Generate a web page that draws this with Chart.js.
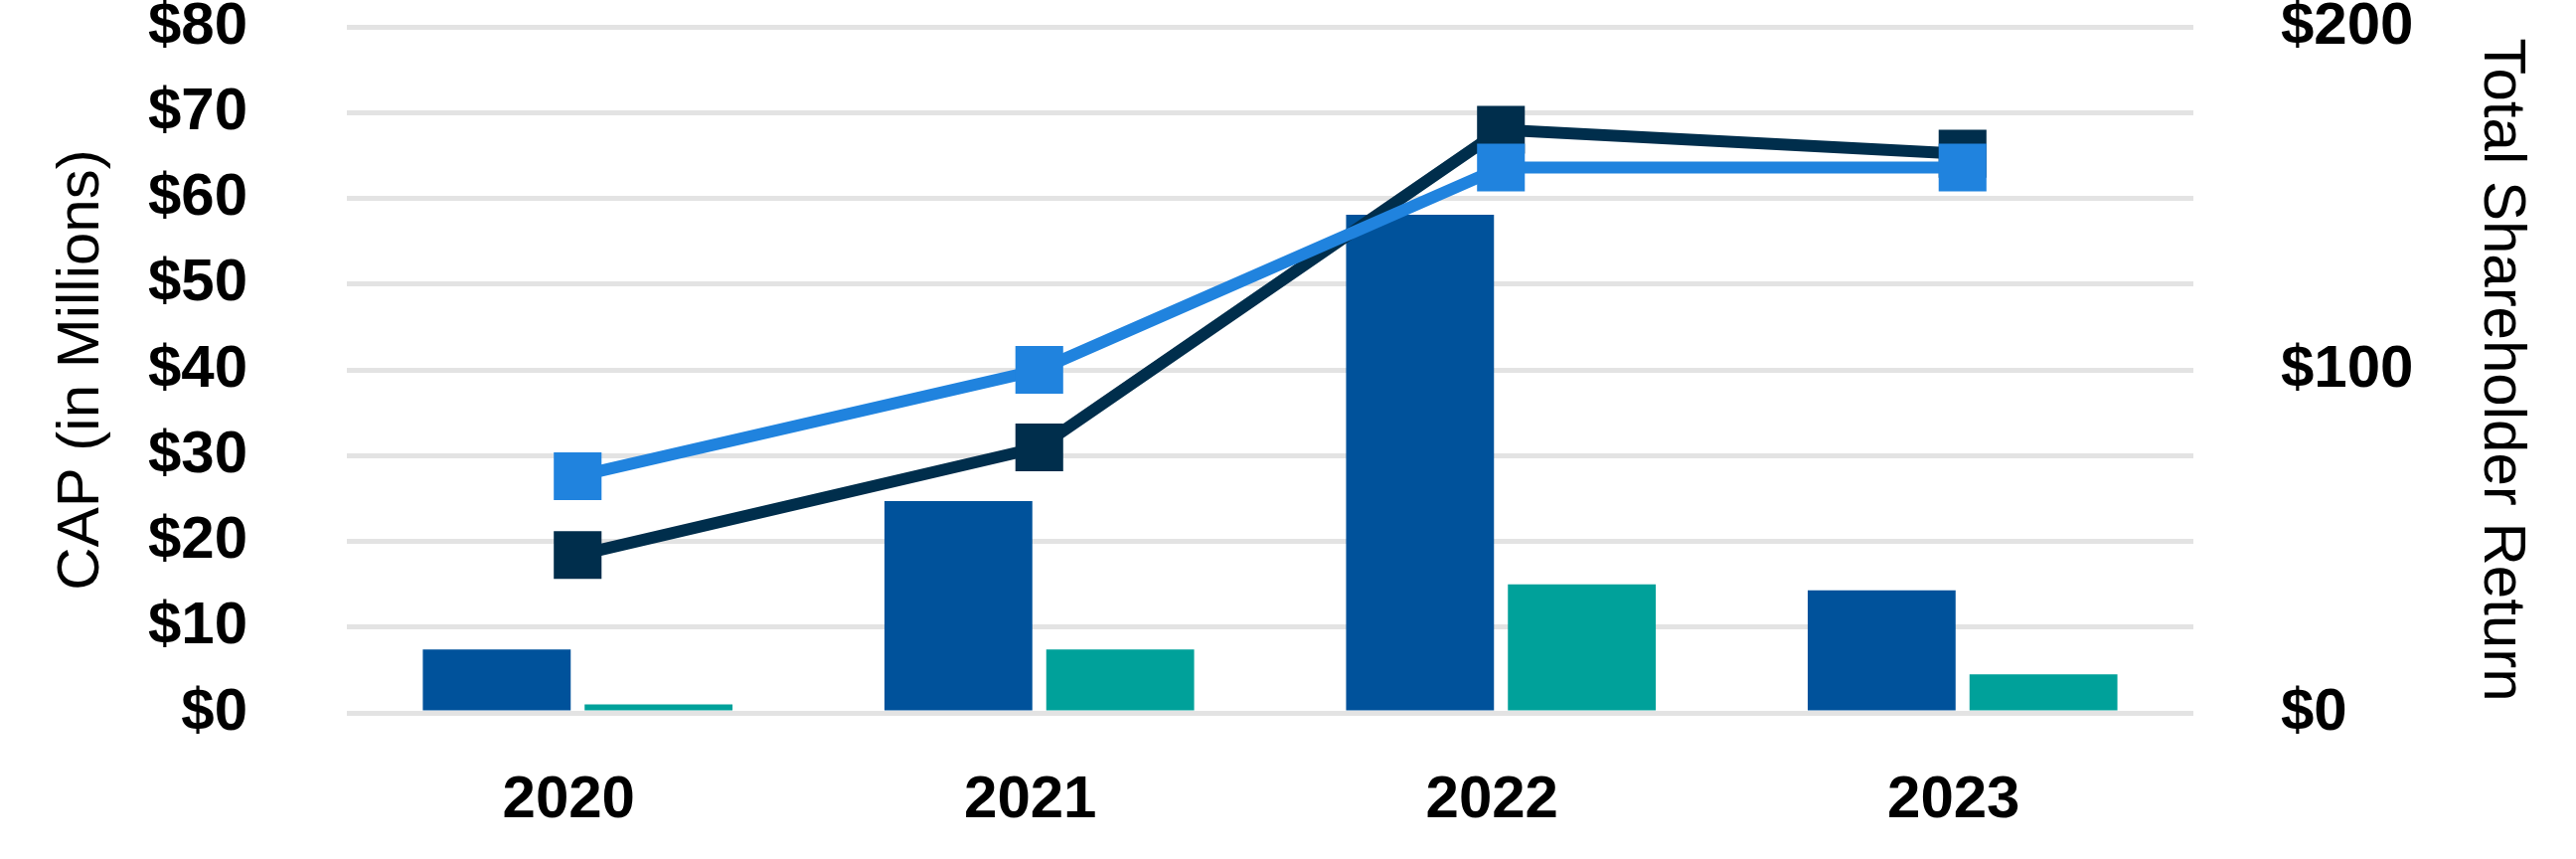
<!DOCTYPE html>
<html>
<head>
<meta charset="utf-8">
<script src="https://cdn.jsdelivr.net/npm/chart.js@4.4.1/dist/chart.umd.min.js"></script>
<style>
  html, body { margin: 0; padding: 0; background: #ffffff; }
  #wrap { width: 2592px; height: 864px; }
</style>
</head>
<body>
<div id="wrap"><canvas id="c" width="2592" height="864"></canvas></div>
<script>
// ---- data ----
const years = ['2020', '2021', '2022', '2023'];
const capValues = [7.4, 24.7, 58.1, 14.3];          // CAP (in Millions), left axis
const netIncomeValues = [1.0, 7.4, 15.0, 4.5];      // second bar series, left axis
const companyTSR = [46, 77.4, 170, 163];             // dark line, right axis
const peerTSR = [69, 100, 159, 159];                 // light line, right axis
const leftTicks = [0, 10, 20, 30, 40, 50, 60, 70, 80];
const rightTicks = [0, 100, 200];
const leftTitle = 'CAP (in Millions)';
const rightTitle = 'Total Shareholder Return';

const FONT = '"Liberation Sans", Arial, sans-serif';

new Chart(document.getElementById('c'), {
  type: 'bar',
  data: {
    labels: years,
    datasets: [
      {
        type: 'line', label: 'Peer TSR', data: peerTSR, yAxisID: 'y1', order: 0,
        borderColor: '#2083DE', backgroundColor: '#2083DE', borderWidth: 12,
        tension: 0, pointStyle: 'rect', pointRadius: 34, pointHoverRadius: 34,
        pointBorderWidth: 0, pointBackgroundColor: '#2083DE', fill: false
      },
      {
        type: 'line', label: 'Company TSR', data: companyTSR, yAxisID: 'y1', order: 1,
        borderColor: '#002E4C', backgroundColor: '#002E4C', borderWidth: 12,
        tension: 0, pointStyle: 'rect', pointRadius: 34, pointHoverRadius: 34,
        pointBorderWidth: 0, pointBackgroundColor: '#002E4C', fill: false
      },
      {
        type: 'bar', label: 'CAP', data: capValues, yAxisID: 'y', order: 2,
        backgroundColor: '#00529B', categoryPercentage: 0.701, barPercentage: 0.914
      },
      {
        type: 'bar', label: 'Net Income', data: netIncomeValues, yAxisID: 'y', order: 3,
        backgroundColor: '#00A19A', categoryPercentage: 0.701, barPercentage: 0.914
      }
    ]
  },
  options: {
    responsive: false,
    devicePixelRatio: 1,
    animation: false,
    layout: { autoPadding: false, padding: { top: 27, left: 0, right: 0, bottom: 0 } },
    plugins: { legend: { display: false }, tooltip: { enabled: false } },
    scales: {
      x: {
        type: 'category',
        offset: true,
        grid: { display: false, drawTicks: false },
        border: { display: false },
        ticks: { color: '#000', padding: 52, labelOffset: -9, font: { family: FONT, size: 60, weight: 'bold' } },
        afterFit: (s) => { s.height = 147; s.paddingLeft = 0; s.paddingRight = 0; }
      },
      y: {
        position: 'left',
        min: 0, max: 80,
        afterBuildTicks: (s) => { s.ticks = leftTicks.map(v => ({ value: v })); },
        grid: { color: '#E3E3E3', lineWidth: 5, drawTicks: false },
        border: { display: false },
        ticks: {
          color: '#000', padding: 100,
          font: { family: FONT, size: 60, weight: 'bold' },
          callback: (v) => '$' + v
        },
        title: {
          display: true, text: leftTitle, color: '#000',
          font: { family: FONT, size: 60, weight: 'normal' },
          padding: { top: 46, bottom: 0 }
        },
        afterFit: (s) => { s.width = 349; s.paddingTop = 0; s.paddingBottom = 0; }
      },
      y1: {
        position: 'right',
        min: 0, max: 200,
        afterBuildTicks: (s) => { s.ticks = rightTicks.map(v => ({ value: v })); },
        grid: { display: false, drawTicks: false },
        border: { display: false },
        ticks: {
          color: '#000', padding: 88,
          font: { family: FONT, size: 60, weight: 'bold' },
          callback: (v) => '$' + v
        },
        title: {
          display: true, text: rightTitle, color: '#000',
          font: { family: FONT, size: 60, weight: 'normal' },
          padding: { top: 39, bottom: 0 }
        },
        afterFit: (s) => { s.width = 385; s.paddingTop = 0; s.paddingBottom = 0; }
      }
    }
  }
});
</script>
</body>
</html>
